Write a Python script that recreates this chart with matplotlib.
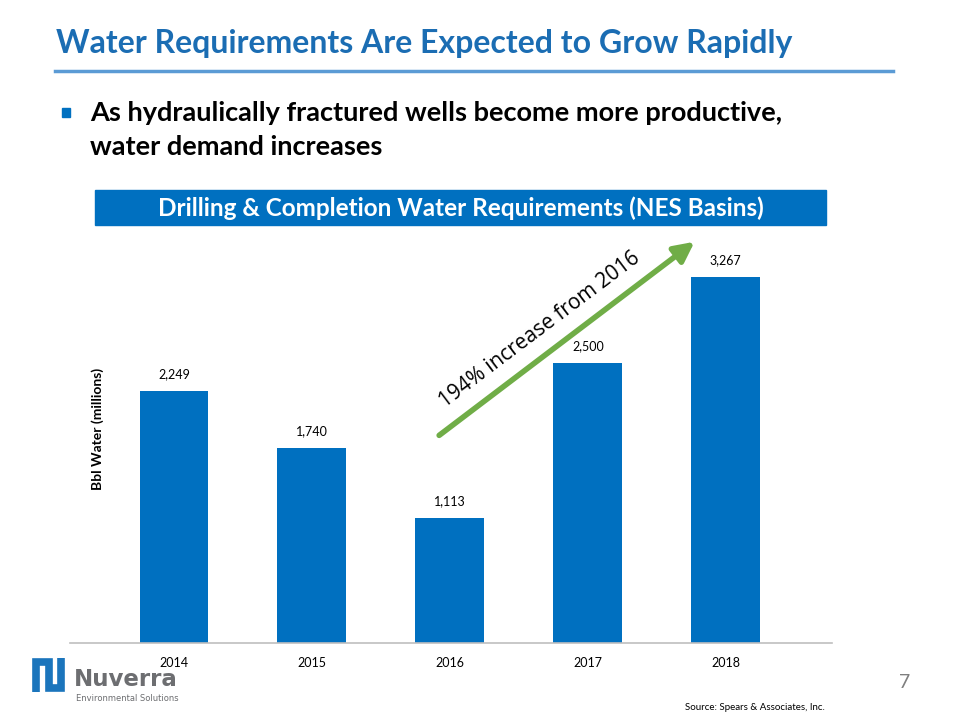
import matplotlib.pyplot as plt
from matplotlib.patches import Rectangle
from matplotlib.lines import Line2D

years = ["2014", "2015", "2016", "2017", "2018"]
water = [2249, 1740, 1113, 2500, 3267]
labels = ["2,249", "1,740", "1,113", "2,500", "3,267"]

BLUE = "#0070C0"
TITLE_BLUE = "#1B6DB3"
LOGO_BLUE = "#1B75BC"
LOGO_GRAY = "#6D6E71"

plt.rcParams['font.family'] = ['Lato', 'DejaVu Sans']

fig = plt.figure(figsize=(9.6, 7.2), dpi=100)

def px(x, y):
    # slide pixel -> figure fraction
    return x / 960, 1 - y / 720

# slide header
fig.text(*px(56, 44), "Water Requirements Are Expected to Grow Rapidly",
         fontsize=23, fontweight='bold', color=TITLE_BLUE, va='center', ha='left')
fig.add_artist(Line2D([55 / 960, 893 / 960], [1 - 71 / 720, 1 - 71 / 720],
                      color="#5B9BD5", linewidth=2.5, transform=fig.transFigure))

# bullet
fig.add_artist(Rectangle(px(62, 117), 8 / 960, 9 / 720,
                         color=BLUE, transform=fig.transFigure))
fig.text(*px(90, 113), "As hydraulically fractured wells become more productive,",
         fontsize=19.5, fontweight='bold', color='black', va='center', ha='left')
fig.text(*px(90, 147), "water demand increases",
         fontsize=19.5, fontweight='bold', color='black', va='center', ha='left')

# banner above the chart
fig.add_artist(Rectangle(px(95, 225), 731 / 960, 35 / 720,
                         color=BLUE, transform=fig.transFigure))
fig.text(*px(461, 208), "Drilling & Completion Water Requirements (NES Basins)",
         fontsize=17.5, fontweight='bold', color='white', va='center', ha='center')

# bar chart
ax = fig.add_axes([70 / 960, 77 / 720, 762 / 960, 411 / 720])
x = range(len(years))
ax.bar(x, water, width=0.5, color=BLUE)
for xi, v, lab in zip(x, water, labels):
    ax.text(xi, v + 100, lab, ha='center', va='bottom', fontsize=9, color='black')

ax.set_xlim(-0.754, 4.77)
ax.set_ylim(0, 3670)
ax.set_xticks(list(x))
ax.set_xticklabels(years, fontsize=9)
ax.tick_params(axis='x', length=0, pad=10)
ax.set_yticks([])
for side in ['top', 'right', 'left']:
    ax.spines[side].set_visible(False)
ax.spines['bottom'].set_color('#BFBFBF')
ax.spines['bottom'].set_linewidth(1.2)

ax.set_ylabel("Bbl Water (millions)", fontsize=10, fontweight='bold')
ax.yaxis.set_label_coords(0.045, 0.52)

# growth arrow
ax.annotate("", xy=(3.79, 3598), xytext=(1.906, 1839),
            arrowprops=dict(arrowstyle='-|>,head_length=1.2,head_width=0.6',
                            color='#70AD47', linewidth=4))
ax.text(2.65, 2800, "194% increase from 2016", rotation=37, fontsize=15,
        ha='center', va='center', rotation_mode='anchor',
        family=['Open Sans', 'DejaVu Sans'])

# footer
fig.text(*px(905, 683), "7", fontsize=14, color='#7F7F7F', ha='center', va='center')
fig.text(*px(825, 707), "Source: Spears & Associates, Inc.", fontsize=7,
         ha='right', va='center')

# logo
lx = [36, 36, 49, 49, 61, 61]
ly = [692, 662, 662, 688, 688, 658]
fig.add_artist(Line2D([v / 960 for v in lx], [1 - v / 720 for v in ly],
                      color=LOGO_BLUE, linewidth=5.5, solid_joinstyle='miter',
                      solid_capstyle='butt', transform=fig.transFigure))
fig.text(*px(74, 686), "Nuverra", fontsize=16.5, fontweight='bold', color=LOGO_GRAY,
         ha='left', va='baseline', family=['Liberation Sans Narrow', 'DejaVu Sans'])
fig.text(*px(76, 701), "Environmental Solutions", fontsize=6, color=LOGO_GRAY,
         ha='left', va='baseline', family=['Liberation Sans Narrow', 'DejaVu Sans'])

fig.savefig("out.png", dpi=100)
